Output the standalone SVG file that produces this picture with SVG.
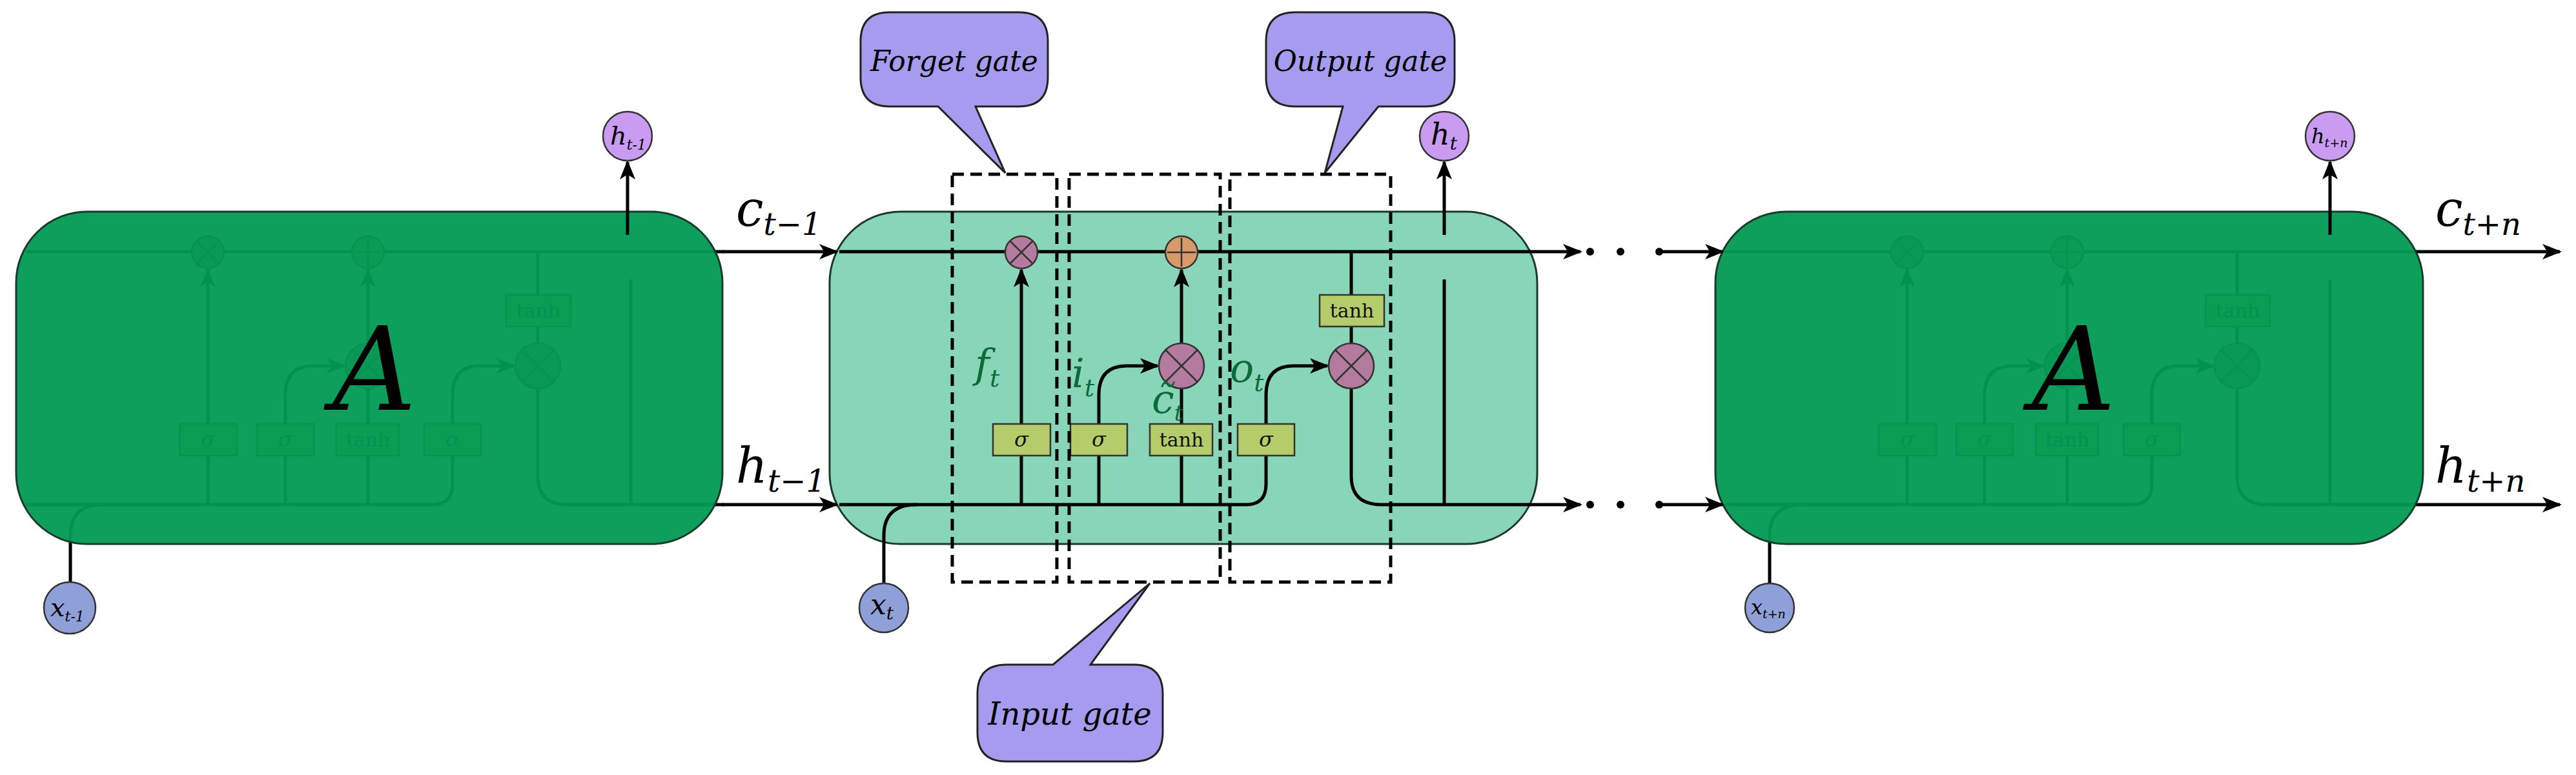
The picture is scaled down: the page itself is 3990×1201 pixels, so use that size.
<svg xmlns="http://www.w3.org/2000/svg" xmlns:xlink="http://www.w3.org/1999/xlink" width="3990" height="1201" viewBox="0 0 3990 1201">
<style>
.ln{fill:none;stroke:#000;stroke-width:5}
.dash{fill:none;stroke:#000;stroke-width:5;stroke-dasharray:18 10}
.gb{fill:#b5cc6a;stroke:#333;stroke-width:2.5}
.gt{font-family:"DejaVu Serif","Liberation Serif",serif;font-size:30px;text-anchor:middle;fill:#111}
.gs{font-family:"DejaVu Serif","Liberation Serif",serif;font-style:italic;font-size:32px;text-anchor:middle;fill:#111}
.mul{fill:#b37c9e;stroke:#333;stroke-width:2.5}
.add{fill:#d99a6a;stroke:#333;stroke-width:2.5}
.op{stroke:#333;stroke-width:2.5}
.m{font-family:"DejaVu Serif","Liberation Serif",serif;font-style:italic}
.hc{fill:#c99cf2;stroke:#333;stroke-width:2.5}
.xc{fill:#8fa0d8;stroke:#333;stroke-width:2.5}
.call{fill:#a59cf0;stroke:#222;stroke-width:3}
.cell{stroke:#1a3a2a;stroke-width:3}
.lab{font-family:"DejaVu Serif","Liberation Serif",serif;font-style:italic;fill:#0b6b3a;font-size:62px}
</style>
<defs>
<marker id="ar" viewBox="0 0 20 16" refX="18" refY="8" markerWidth="6" markerHeight="5" markerUnits="strokeWidth" orient="auto">
<path d="M0,0 L20,8 L0,16 L5,8 Z" fill="#000"/>
</marker>
<g id="core">
<path class="ln" d="M1300,390 H2381"/>
<path class="ln" d="M1300,782 H1930 Q1961,782 1961,750 V706"/>
<path class="ln" d="M1369,905 V830 Q1369,782 1420,782"/>
<path class="ln" d="M1582,782 V706"/>
<path class="ln" d="M1582,657 V418" marker-end="url(#ar)"/>
<path class="ln" d="M1702,782 V706"/>
<path class="ln" d="M1702,657 V612 Q1702,567 1745,567 H1793" marker-end="url(#ar)"/>
<path class="ln" d="M1830,782 V706 M1830,657 V602"/>
<path class="ln" d="M1830,532 V418" marker-end="url(#ar)"/>
<path class="ln" d="M1961,657 V612 Q1961,567 2003,567 H2056" marker-end="url(#ar)"/>
<path class="ln" d="M2093,390 V457 M2093,506 V532 M2093,602 V738 Q2093,782 2140,782 H2381"/>
<path class="ln" d="M2237,782 V433"/>
<circle class="mul" cx="1582" cy="391" r="25"/>
<path class="op" d="M1565,374 L1599,408 M1599,374 L1565,408"/>
<circle class="add" cx="1830" cy="391" r="25"/>
<path class="op" d="M1830,369 V413 M1808,391 H1852"/>
<circle class="mul" cx="1830" cy="567" r="35"/>
<path class="op" d="M1805,542 L1855,592 M1855,542 L1805,592"/>
<circle class="mul" cx="2093" cy="567" r="35"/>
<path class="op" d="M2068,542 L2118,592 M2118,542 L2068,592"/>
<rect class="gb" x="1538" y="657" width="89" height="49"/>
<text class="gs" x="1582" y="692">σ</text>
<rect class="gb" x="1658" y="657" width="88" height="49"/>
<text class="gs" x="1702" y="692">σ</text>
<rect class="gb" x="1781" y="657" width="97" height="49"/>
<text class="gt" x="1830" y="692">tanh</text>
<rect class="gb" x="1917" y="657" width="88" height="49"/>
<text class="gs" x="1961" y="692">σ</text>
<rect class="gb" x="2044" y="457" width="100" height="49"/>
<text class="gt" x="2094" y="492">tanh</text>
</g>
</defs>

<g id="cell-left">
<use href="#core" transform="translate(-1260,0)"/>
<rect class="cell" x="25" y="328" width="1094" height="515" rx="110" fill="#009a52" fill-opacity="0.95"/>
<text class="m" x="580" y="635" font-size="180" text-anchor="middle">A</text>
</g>
<g id="cell-center">
<rect class="cell" x="1285" y="328" width="1096" height="515" rx="110" fill="#88d5b8"/>
<use href="#core"/>
<text class="lab" x="1510" y="585">f<tspan font-size="38" dy="14">t</tspan></text>
<text class="lab" x="1660" y="600">i<tspan font-size="38" dy="14">t</tspan></text>
<text class="lab" x="1784" y="640" font-size="52">c̃<tspan font-size="34" dy="12">t</tspan></text>
<text class="lab" x="1905" y="592">o<tspan font-size="38" dy="14">t</tspan></text>
</g>
<g id="cell-right">
<use href="#core" transform="translate(1372,0)"/>
<rect class="cell" x="2657" y="328" width="1096" height="515" rx="110" fill="#009a52" fill-opacity="0.95"/>
<text class="m" x="3212" y="635" font-size="180" text-anchor="middle">A</text>
</g>

<g id="connectors">
<path class="ln" d="M1119,390 H1296" marker-end="url(#ar)"/>
<path class="ln" d="M1119,782 H1296" marker-end="url(#ar)"/>
<path class="ln" d="M972,364 V251" marker-end="url(#ar)"/>
<path class="ln" d="M2237,364 V251" marker-end="url(#ar)"/>
<path class="ln" d="M3609,364 V251" marker-end="url(#ar)"/>
<path class="ln" d="M2381,390 H2448" marker-end="url(#ar)"/>
<path class="ln" d="M2381,782 H2448" marker-end="url(#ar)"/>
<circle cx="2463" cy="390" r="6"/><circle cx="2510" cy="390" r="6"/><circle cx="2570" cy="390" r="6"/>
<circle cx="2463" cy="782" r="6"/><circle cx="2510" cy="782" r="6"/><circle cx="2570" cy="782" r="6"/>
<path class="ln" d="M2570,390 H2668" marker-end="url(#ar)"/>
<path class="ln" d="M2570,782 H2668" marker-end="url(#ar)"/>
<path class="ln" d="M3753,390 H3965" marker-end="url(#ar)"/>
<path class="ln" d="M3753,782 H3965" marker-end="url(#ar)"/>
</g>

<g id="gates">
<rect class="dash" x="1475" y="270" width="162" height="632"/>
<rect class="dash" x="1656" y="270" width="234" height="632"/>
<rect class="dash" x="1905" y="270" width="249" height="632"/>
</g>

<g id="h-left"><circle class="hc" cx="972" cy="211" r="38"/><text class="m" x="945" y="224" font-size="40">h<tspan font-size="22" dy="8">t-1</tspan></text></g>
<g id="h-center"><circle class="hc" cx="2237" cy="211" r="38"/><text class="m" x="2216" y="224" font-size="46">h<tspan font-size="28" dy="8">t</tspan></text></g>
<g id="h-right"><circle class="hc" cx="3609" cy="211" r="38"/><text class="m" x="3580" y="222" font-size="32">h<tspan font-size="19" dy="6">t+n</tspan></text></g>
<g id="x-left"><circle class="xc" cx="108" cy="942" r="40"/><text class="m" x="78" y="955" font-size="40">x<tspan font-size="22" dy="8">t-1</tspan></text></g>
<g id="x-center"><circle class="xc" cx="1369" cy="942" r="38"/><text class="m" x="1348" y="952" font-size="44">x<tspan font-size="28" dy="8">t</tspan></text></g>
<g id="x-right"><circle class="xc" cx="2741" cy="942" r="38"/><text class="m" x="2712" y="952" font-size="32">x<tspan font-size="19" dy="6">t+n</tspan></text></g>

<g id="labels">
<text class="m" x="1140" y="350" font-size="76">c<tspan font-size="48" dy="14">t−1</tspan></text>
<text class="m" x="1140" y="748" font-size="76">h<tspan font-size="48" dy="14">t−1</tspan></text>
<text class="m" x="3772" y="350" font-size="76">c<tspan font-size="48" dy="14">t+n</tspan></text>
<text class="m" x="3772" y="748" font-size="76">h<tspan font-size="48" dy="14">t+n</tspan></text>
</g>

<g id="callout-forget">
<path class="call" d="M1378,19 H1578 Q1623,19 1623,64 V120 Q1623,165 1578,165 H1511 L1557,268 L1453,165 H1378 Q1333,165 1333,120 V64 Q1333,19 1378,19 Z"/>
<text class="m" x="1478" y="110" font-size="44" text-anchor="middle">Forget gate</text>
</g>
<g id="callout-output">
<path class="call" d="M2006,19 H2208 Q2253,19 2253,64 V120 Q2253,165 2208,165 H2135 L2052,268 L2080,165 H2006 Q1961,165 1961,120 V64 Q1961,19 2006,19 Z"/>
<text class="m" x="2107" y="110" font-size="44" text-anchor="middle">Output gate</text>
</g>
<g id="callout-input">
<path class="call" d="M1559,1030 H1631 L1781,904 L1689,1030 H1756 Q1801,1030 1801,1075 V1135 Q1801,1180 1756,1180 H1559 Q1514,1180 1514,1135 V1075 Q1514,1030 1559,1030 Z"/>
<text class="m" x="1657" y="1123" font-size="48" text-anchor="middle">Input gate</text>
</g>
</svg>
